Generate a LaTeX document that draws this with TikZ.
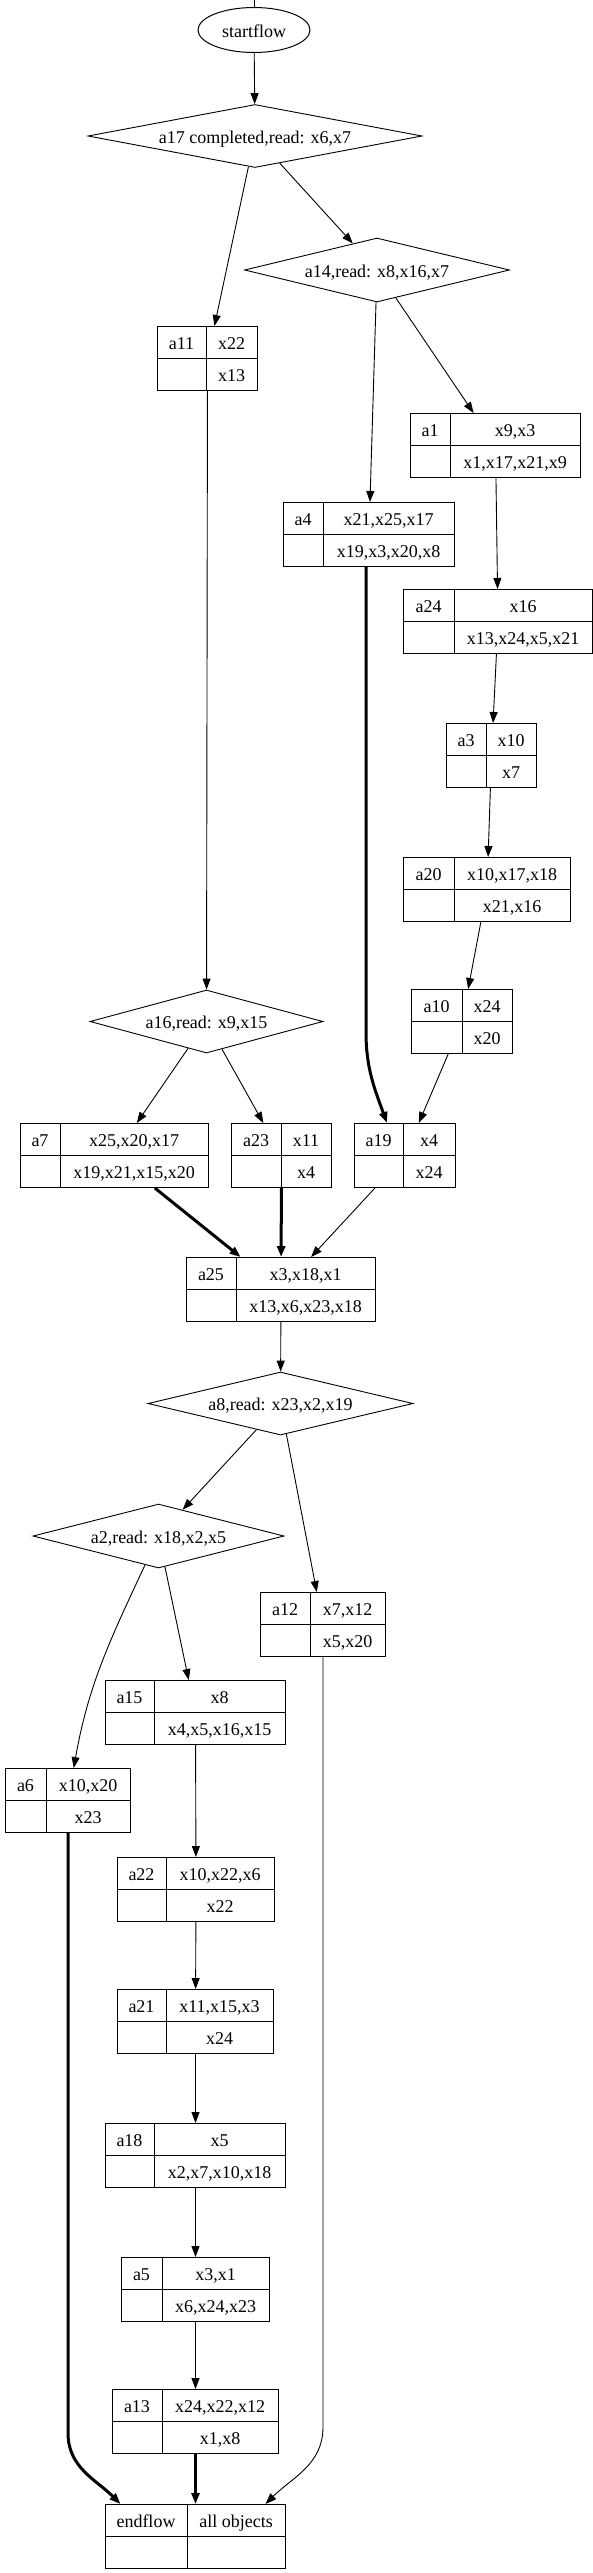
\documentclass[tikz,border=0pt]{standalone}
\usepackage{fontspec}
\setmainfont{Liberation Serif}
\usetikzlibrary{shapes.geometric,arrows.meta}
\tikzset{
  % Aktivitet som record: navn til venstre, objekter til hoejre (to raekker)
  akt/.style={draw=black, line width=1pt, fill=white, inner sep=0pt,
    minimum height=64pt},
  aktline/.style={draw=black, line width=1pt},
  lbl/.style={font=\fontsize{18}{21}\selectfont, inner sep=0pt,
    text height=14pt, text depth=0pt},
  % Beslutning (read) og startknude
  dia/.style={draw=black, line width=.9pt, fill=white, diamond, aspect=5,
    inner sep=0pt, font=\fontsize{18}{21}\selectfont,
    text height=14pt, text depth=0pt},
  startnode/.style={draw=black, line width=1pt, fill=white, ellipse,
    minimum width=112pt, minimum height=45pt, inner sep=0pt,
    font=\fontsize{18}{21}\selectfont, text height=14pt, text depth=0pt},
  flow/.style={draw=black, line width=.9pt,
    -{Triangle[length=11pt,width=8pt]}},
  hot/.style={flow, line width=3pt},
}
% \akt{navn}{venstre x}{top y}{skille x}{hoejre x}{label}{top}{bund}
\newcommand{\akt}[8]{%
  \node[akt, minimum width={(#5-#2)*1pt}, anchor=north west] (#1) at (#2,#3) {};
  \draw[aktline] (#4,#3) -- (#4,#3+64);
  \draw[aktline] (#2,#3+32) -- (#5,#3+32);
  \node[lbl] (#1-navn) at ({(#2+#4)/2},#3+16) {#6};
  \node[lbl] (#1-top) at ({(#4+#5)/2},#3+16) {#7};
  \node[lbl] (#1-bund) at ({(#4+#5)/2},#3+48) {#8};}

\begin{document}
\begin{tikzpicture}[x=1pt,y=-1pt]
\useasboundingbox (0,0) rectangle (593,2573);

% ----- start og foerste beslutninger -----
\coordinate (topkant) at (254,0);
\node[startnode] (startflow) at (254,30) {startflow};
\node[dia, minimum width=334pt, minimum height=63pt] (a17) at (255,136) {a17 completed,read: x6,x7};
\node[dia, minimum width=265pt, minimum height=64pt] (a14) at (377,270) {a14,read: x8,x16,x7};

% ----- hoejre gren -----
\akt{a11}{157}{326}{206}{257}{a11}{x22}{x13}
\akt{a1}{410}{413}{450}{580}{a1}{x9,x3}{x1,x17,x21,x9}
\akt{a4}{283}{502}{323}{454}{a4}{x21,x25,x17}{x19,x3,x20,x8}
\akt{a24}{403}{589}{454}{592}{a24}{x16}{x13,x24,x5,x21}
\akt{a3}{446}{723}{486}{536}{a3}{x10}{x7}
\akt{a20}{403}{857}{454}{570}{a20}{x10,x17,x18}{x21,x16}
\akt{a10}{411}{989}{462}{512}{a10}{x24}{x20}

% ----- samling i a25 -----
\node[dia, minimum width=233pt, minimum height=63pt] (a16) at (206.5,1021.5) {a16,read: x9,x15};
\akt{a7}{20}{1123}{60}{208}{a7}{x25,x20,x17}{x19,x21,x15,x20}
\akt{a23}{231}{1123}{281}{331}{a23}{x11}{x4}
\akt{a19}{354}{1123}{403}{455}{a19}{x4}{x24}
\akt{a25}{186}{1257}{236}{375}{a25}{x3,x18,x1}{x13,x6,x23,x18}

% ----- nederste del -----
\node[dia, minimum width=265pt, minimum height=63pt] (a8) at (280.5,1403.5) {a8,read: x23,x2,x19};
\node[dia, minimum width=251pt, minimum height=64pt] (a2) at (158.5,1536) {a2,read: x18,x2,x5};
\akt{a12}{260}{1592}{310}{385}{a12}{x7,x12}{x5,x20}
\akt{a15}{105}{1680}{154}{285}{a15}{x8}{x4,x5,x16,x15}
\akt{a6}{5}{1768}{46}{130}{a6}{x10,x20}{x23}
\akt{a22}{117}{1857}{166}{274}{a22}{x10,x22,x6}{x22}
\akt{a21}{117}{1989}{166}{273}{a21}{x11,x15,x3}{x24}
\akt{a18}{105}{2123}{154}{285}{a18}{x5}{x2,x7,x10,x18}
\akt{a5}{121}{2257}{162}{269}{a5}{x3,x1}{x6,x24,x23}
\akt{a13}{112}{2389}{162}{278}{a13}{x24,x22,x12}{x1,x8}
\akt{endflow}{105}{2504}{187}{285}{endflow}{all objects}{}

% ----- kanter (tyk streg = hot path) -----
\newcommand{\pil}[3]{\draw[#3] (#1) -- (#2);}
\draw[line width=.9pt] (topkant) -- (startflow);
\pil{startflow}{a17}{flow}
\pil{a17}{a11}{flow}
\pil{a17}{a14}{flow}
\pil{a14}{a4}{flow}
\pil{a14}{a1}{flow}
\pil{a1}{a24}{flow}
\pil{a24}{a3}{flow}
\pil{a3}{a20}{flow}
\pil{a20}{a10}{flow}
\pil{a10}{a19}{flow}
\pil{a11}{a16}{flow}
\pil{a16}{a7}{flow}
\pil{a16}{a23}{flow}
% a4 -> a19: lodret ned, boejer af til sidst
\draw[hot] ([xshift=-3pt]a4.south) -- ([xshift=-3pt,yshift=-465pt]a4.south)
  to[out=-90,in=110] ([xshift=-18pt]a19.north);
\pil{a7}{a25}{hot}
\pil{a23}{a25}{hot}
\pil{a19}{a25}{flow}
\pil{a25}{a8}{flow}
\pil{a8}{a2}{flow}
\pil{a8}{a12}{flow}
\draw[flow] (a2) to[out=-115,in=80] (a6);
\pil{a2}{a15}{flow}
\pil{a15}{a22}{flow}
\pil{a22}{a21}{flow}
\pil{a21}{a18}{flow}
\pil{a18}{a5}{flow}
\pil{a5}{a13}{flow}
\pil{a13}{endflow}{hot}
% lange kanter ned til endflow
\draw[hot] (a6.south) -- ([yshift=-600pt]a6.south)
  to[out=-90,in=135] ([xshift=-75pt]endflow.north);
\draw[flow] (a12.south) -- ([yshift=-770pt]a12.south)
  to[out=-90,in=45] ([xshift=70pt]endflow.north);

\end{tikzpicture}
\end{document}
